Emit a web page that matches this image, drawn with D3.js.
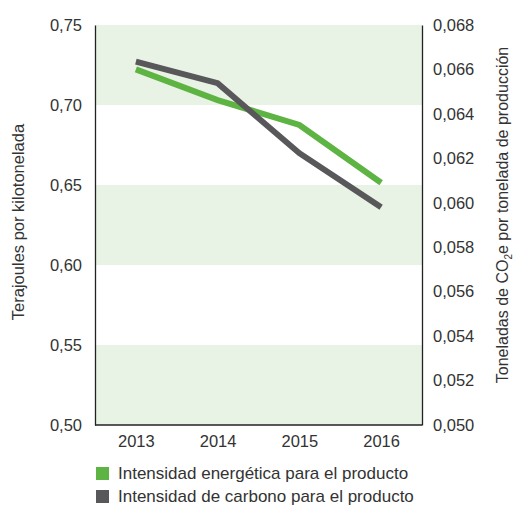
<!DOCTYPE html>
<html>
<head>
<meta charset="utf-8">
<script src="https://cdn.jsdelivr.net/npm/d3@7"></script>
<style>
  body { margin: 0; background: #fff; }
  text { font-family: "Liberation Sans", Arial, sans-serif; fill: #333; }
</style>
</head>
<body>
<div id="chart"></div>
<script>
const years = ["2013", "2014", "2015", "2016"];
const energia = [0.7223, 0.7031, 0.6875, 0.6514];
const carbono = [0.06635, 0.06538, 0.06223, 0.0598];
const leftTicks = [0.50, 0.55, 0.60, 0.65, 0.70, 0.75];
const rightTicks = [0.050, 0.052, 0.054, 0.056, 0.058, 0.060, 0.062, 0.064, 0.066, 0.068];
const bands = [[0.70, 0.75], [0.60, 0.65], [0.50, 0.55]];
const seriesNames = ["Intensidad energética para el producto", "Intensidad de carbono para el producto"];

const width = 513, height = 506;
const margin = { top: 25, bottom: 81, left: 95, right: 91 };
const green = "#5db443", grey = "#58585a";
const fs = 16.5;

const svg = d3.select("#chart").append("svg")
  .attr("width", width).attr("height", height);

const x = d3.scalePoint().domain(years)
  .range([margin.left, width - margin.right]).padding(0.5);
const yL = d3.scaleLinear().domain([0.50, 0.75]).range([height - margin.bottom, margin.top]);
const yR = d3.scaleLinear().domain([0.050, 0.068]).range([height - margin.bottom, margin.top]);

// bands
svg.append("g").selectAll("rect").data(bands).join("rect")
  .attr("x", margin.left).attr("width", width - margin.left - margin.right)
  .attr("y", d => yL(d[1])).attr("height", d => yL(d[0]) - yL(d[1]))
  .attr("fill", "#e8f2e5");

const fmt = (n) => d => d3.format("." + n + "f")(d).replace(".", ",");

// left axis
const axL = svg.append("g").attr("transform", `translate(${margin.left},0)`)
  .call(d3.axisLeft(yL).tickValues(leftTicks).tickFormat(fmt(2)).tickSize(0).tickPadding(13));
// right axis
const axR = svg.append("g").attr("transform", `translate(${width - margin.right},0)`)
  .call(d3.axisRight(yR).tickValues(rightTicks).tickFormat(fmt(3)).tickSize(0).tickPadding(11));
// bottom axis
const axB = svg.append("g").attr("transform", `translate(0,${height - margin.bottom})`)
  .call(d3.axisBottom(x).tickSize(0).tickPadding(10));
axB.select(".domain").attr("d", `M${margin.left},0H${width - margin.right}`);

[axL, axR, axB].forEach(a => {
  a.select(".domain").attr("stroke", "#222").attr("stroke-width", 1.3);
  a.selectAll("text").attr("font-size", fs).attr("fill", "#333")
    .attr("font-family", "Liberation Sans, Arial, sans-serif");
});

// lines
const lineL = d3.line().x((d, i) => x(years[i])).y(d => yL(d));
const lineR = d3.line().x((d, i) => x(years[i])).y(d => yR(d));
svg.append("path").datum(energia).attr("d", lineL)
  .attr("fill", "none").attr("stroke", green).attr("stroke-width", 6);
svg.append("path").datum(carbono).attr("d", lineR)
  .attr("fill", "none").attr("stroke", grey).attr("stroke-width", 6);

// axis titles
svg.append("text")
  .attr("transform", `translate(24,222) rotate(-90)`)
  .attr("text-anchor", "middle").attr("font-size", fs)
  .text("Terajoules por kilotonelada");
const rt = svg.append("text")
  .attr("transform", `translate(508,215) rotate(-90)`)
  .attr("text-anchor", "middle").attr("font-size", 16);
rt.append("tspan").text("Toneladas de CO");
rt.append("tspan").attr("font-size", 10).attr("dy", 4).text("2");
rt.append("tspan").attr("dy", -4).text("e por tonelada de producción");

// legend
const leg = svg.append("g").selectAll("g").data(seriesNames).join("g")
  .attr("transform", (d, i) => `translate(96,${467 + i * 23})`);
leg.append("rect").attr("width", 13).attr("height", 13)
  .attr("fill", (d, i) => i === 0 ? green : grey);
leg.append("text").attr("x", 22).attr("y", 12).attr("font-size", 17).text(d => d);
</script>
</body>
</html>
